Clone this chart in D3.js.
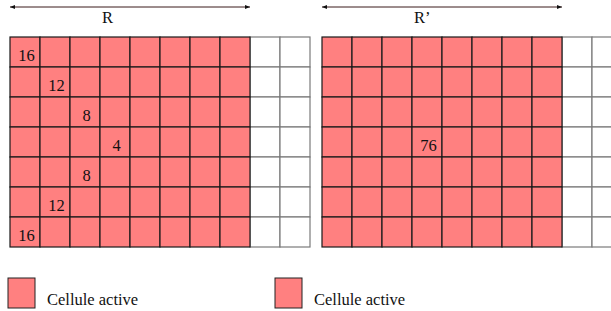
<!DOCTYPE html>
<html>
<head>
<meta charset="utf-8">
<script src="https://cdn.jsdelivr.net/npm/d3@7"></script>
<style>
  body { margin: 0; background: #fff; }
  svg { display: block; }
</style>
</head>
<body>
<div id="chart"></div>
<script>
// grilles R et R'
const nCols = 10;
const nRows = 7;
const activeCols = 8;
const panels = ["R", "R’"];
// valeurs inscrites dans les cellules : panneau, ligne, colonne, valeur
const cellPanel = [0, 0, 0, 0, 0, 0, 0, 1];
const cellRow   = [0, 1, 2, 3, 4, 5, 6, 3];
const cellCol   = [0, 1, 2, 3, 2, 1, 0, 3];
const cellValue = ["16", "12", "8", "4", "8", "12", "16", "76"];
const legendLabels = ["Cellule active", "Cellule active"];

const width = 611, height = 311;
const activeFill = "#ff8080";
const serif = "'Liberation Serif', 'Times New Roman', Times, serif";

const svg = d3.select("#chart").append("svg")
    .attr("width", width)
    .attr("height", height)
    .style("font-family", serif)
    .style("font-size", "16.5px");

svg.append("defs").selectAll("marker")
    .data(["start", "end"])
    .enter().append("marker")
    .attr("id", d => "arrow-" + d)
    .attr("viewBox", "0 0 10 10")
    .attr("refX", d => d === "end" ? 10 : 0)
    .attr("refY", 5)
    .attr("markerWidth", 7)
    .attr("markerHeight", 5)
    .attr("markerUnits", "userSpaceOnUse")
    .attr("orient", "auto")
    .append("path")
    .attr("d", d => d === "end" ? "M0,1L10,5L0,9Z" : "M10,1L0,5L10,9Z")
    .attr("fill", "#111");

// échelles : une par panneau en x, commune en y
const xScales = [
    d3.scaleLinear().domain([0, nCols]).range([10, 310]),
    d3.scaleLinear().domain([0, nCols]).range([322, 622])
];
const y = d3.scaleLinear().domain([0, nRows]).range([37, 247]);

const cells = [];
for (let r = 0; r < nRows; r++) {
    for (let c = 0; c < nCols; c++) cells.push({ r, c });
}

panels.forEach((name, p) => {
    const x = xScales[p];
    const g = svg.append("g");

    // cellules inactives d'abord, puis actives par-dessus
    const sorted = cells.slice().sort((a, b) => (a.c < activeCols) - (b.c < activeCols));
    g.selectAll("rect.cell")
        .data(sorted)
        .enter().append("rect")
        .attr("class", "cell")
        .attr("x", d => x(d.c))
        .attr("y", d => y(d.r))
        .attr("width", x(1) - x(0))
        .attr("height", y(1) - y(0))
        .attr("fill", d => d.c < activeCols ? activeFill : "#fff")
        .attr("stroke", d => d.c < activeCols ? "#1a1a1a" : "#7a7a7a")
        .attr("stroke-width", 1.2);

    // flèche au-dessus de la zone active
    svg.append("line")
        .attr("x1", x(0)).attr("x2", x(activeCols))
        .attr("y1", 7).attr("y2", 7)
        .attr("stroke", "#3a1a1a")
        .attr("stroke-width", 1)
        .attr("marker-start", "url(#arrow-start)")
        .attr("marker-end", "url(#arrow-end)");

    svg.append("text")
        .attr("x", x(0) + 92)
        .attr("y", 23)
        .attr("fill", "#111")
        .text(name);

    // légende
    const lx = p === 0 ? 8 : 275;
    svg.append("rect")
        .attr("x", lx).attr("y", 278)
        .attr("width", 27).attr("height", 30)
        .attr("fill", activeFill)
        .attr("stroke", "#222")
        .attr("stroke-width", 1);
    svg.append("text")
        .attr("x", lx + 39)
        .attr("y", 305)
        .attr("fill", "#111")
        .text(legendLabels[p]);
});

// valeurs dans les cellules
svg.selectAll("text.val")
    .data(cellValue)
    .enter().append("text")
    .attr("class", "val")
    .attr("text-anchor", "middle")
    .attr("fill", "#111")
    .attr("x", (d, i) => xScales[cellPanel[i]](cellCol[i] + 0.5) + 1.5)
    .attr("y", (d, i) => y(cellRow[i] + 0.5) + 9)
    .text(d => d);
</script>
</body>
</html>
